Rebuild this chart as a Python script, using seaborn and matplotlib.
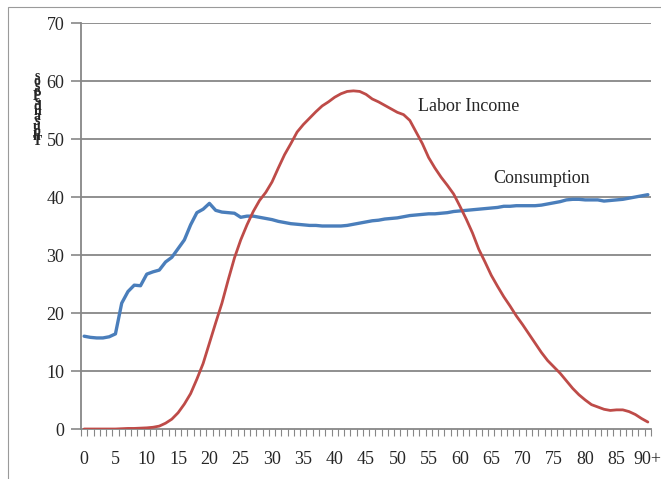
import matplotlib

matplotlib.use("Agg")
import matplotlib.pyplot as plt
import matplotlib.ticker as ticker
import numpy as np
import pandas as pd
import seaborn as sns
from matplotlib.patches import Rectangle

# ages 0..90+ (91 points)
ages = list(range(91))
tick_labels = [str(a) for a in range(0, 90, 5)] + ["90+"]

labor_income = [
    0.0, 0.0, 0.0, 0.0, 0.0, 0.0, 0.05, 0.1, 0.1, 0.15,
    0.2, 0.3, 0.5, 1.0, 1.7, 2.8, 4.3, 6.1, 8.6, 11.3,
    14.8, 18.3, 21.7, 25.7, 29.5, 32.6, 35.2, 37.5, 39.4, 40.8,
    42.6, 45.0, 47.3, 49.2, 51.2, 52.5, 53.6, 54.7, 55.7, 56.4,
    57.2, 57.8, 58.2, 58.3, 58.2, 57.7, 56.9, 56.4, 55.8, 55.2,
    54.6, 54.2, 53.2, 51.2, 49.2, 46.8, 45.0, 43.4, 42.0, 40.5,
    38.4, 36.2, 33.8, 31.0, 28.8, 26.5, 24.6, 22.8, 21.2, 19.5,
    18.0, 16.4, 14.8, 13.2, 11.8, 10.7, 9.6, 8.3, 7.0, 5.9,
    5.0, 4.2, 3.8, 3.4, 3.2, 3.3, 3.3, 3.0, 2.5, 1.8,
    1.2,
]

consumption = [
    16.0, 15.8, 15.7, 15.7, 15.9, 16.4, 21.7, 23.7, 24.8, 24.7,
    26.7, 27.1, 27.4, 28.8, 29.6, 31.1, 32.6, 35.2, 37.3, 37.9,
    38.9, 37.7, 37.4, 37.3, 37.2, 36.5, 36.7, 36.7, 36.5, 36.3,
    36.1, 35.8, 35.6, 35.4, 35.3, 35.2, 35.1, 35.1, 35.0, 35.0,
    35.0, 35.0, 35.1, 35.3, 35.5, 35.7, 35.9, 36.0, 36.2, 36.3,
    36.4, 36.6, 36.8, 36.9, 37.0, 37.1, 37.1, 37.2, 37.3, 37.5,
    37.6, 37.7, 37.8, 37.9, 38.0, 38.1, 38.2, 38.4, 38.4, 38.5,
    38.5, 38.5, 38.5, 38.6, 38.8, 39.0, 39.2, 39.5, 39.6, 39.6,
    39.5, 39.5, 39.5, 39.3, 39.4, 39.5, 39.6, 39.8, 40.0, 40.2,
    40.4,
]

df = pd.DataFrame({"age": ages, "Labor Income": labor_income, "Consumption": consumption})

sns.set_theme(style="white")
plt.rcParams["font.family"] = ["Liberation Serif", "DejaVu Serif"]

fig = plt.figure(figsize=(6.61, 4.79), dpi=100)
ax = fig.add_axes([81 / 661, 1 - 429 / 479, 570 / 661, 406 / 479])

# outer frame (only left and top edges visible)
fig.patches.append(Rectangle((8 / 661, -0.1), 1.2, 1 - 7 / 479 + 0.1,
                             transform=fig.transFigure, fill=False,
                             edgecolor="#9a9a9a", linewidth=0.8))

gray = "#878787"
for y in range(10, 80, 10):
    ax.axhline(y, color=gray, linewidth=1.3, zorder=1)

sns.lineplot(data=df, x="age", y="Consumption", ax=ax, color="#4A7EBB", linewidth=2.4, zorder=3)
sns.lineplot(data=df, x="age", y="Labor Income", ax=ax, color="#BE4B48", linewidth=2.0, zorder=3)

ax.set_xlim(-0.5, 90.5)
ax.set_ylim(0, 70)
ax.set_xlabel("")
ax.set_ylabel("")

ax.set_xticks(list(range(0, 91, 5)))
ax.set_xticklabels(tick_labels)
ax.xaxis.set_minor_locator(ticker.FixedLocator(np.arange(-0.5, 91, 1)))
ax.tick_params(axis="x", which="major", length=0, pad=16, labelsize=13)
ax.tick_params(axis="x", which="minor", length=5, width=0.8, color=gray, direction="out", bottom=True)
ax.set_yticks(list(range(0, 80, 10)))
ax.tick_params(axis="y", which="major", length=7, width=1.2, color=gray, direction="out", left=True, labelsize=13, pad=5)

for side in ["top", "right"]:
    ax.spines[side].set_visible(False)
for side in ["left", "bottom"]:
    ax.spines[side].set_color(gray)
    ax.spines[side].set_linewidth(1.3)

ax.text(53.3, 55.6, "Labor Income", fontsize=13, ha="left", va="center")
ax.text(65.3, 43.2, "Consumption", fontsize=13, ha="left", va="center")

# garbled stacked y label as in the original
fig.text(37 / 661, 1 - 70 / 479, "\n".join("sosePsdnasuohT"), fontsize=10, fontweight="bold",
         ha="center", va="top", linespacing=0.2)

fig.savefig("out.png", dpi=100)
